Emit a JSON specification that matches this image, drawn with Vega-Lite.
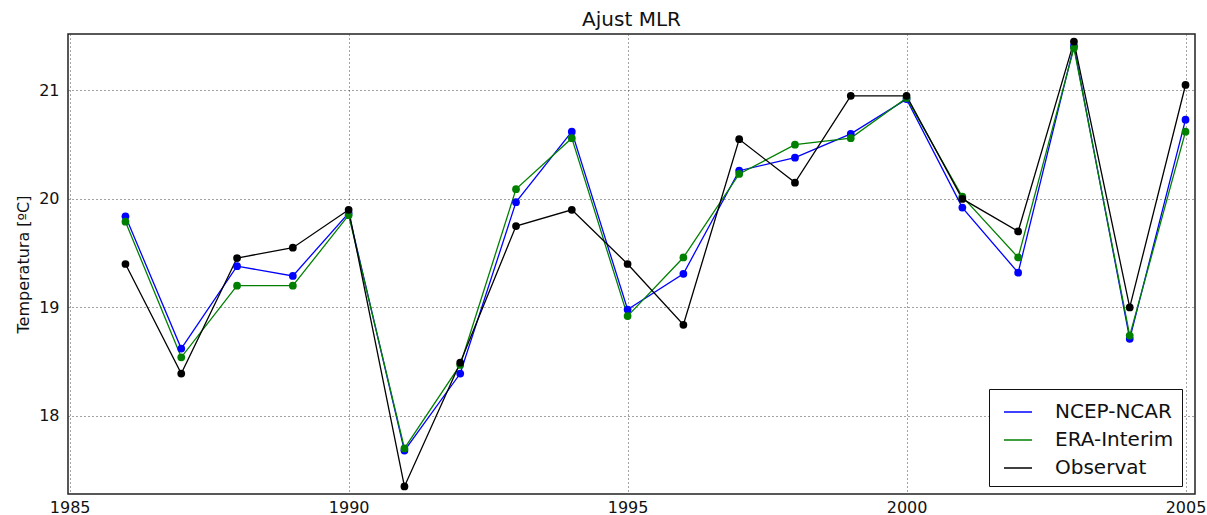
{
  "$schema": "https://vega.github.io/schema/vega-lite/v6.json",
  "autosize": {"type": "none"},
  "padding": {"left": 68, "top": 34, "right": 12, "bottom": 21},
  "width": 1127,
  "height": 460,
  "background": "white",
  "title": {"text": "Ajust MLR", "fontSize": 20, "font": "DejaVu Sans", "fontWeight": "normal", "color": "#111", "offset": 4, "anchor": "middle"},
  "config": {
    "view": {"stroke": "#222", "strokeWidth": 1.5},
    "font": "DejaVu Sans",
    "axis": {"labelFont": "DejaVu Sans", "titleFont": "DejaVu Sans", "labelColor": "#111", "titleColor": "#111", "domain": false, "ticks": false, "tickSize": 0, "gridColor": "#333", "gridDash": [1, 3], "gridWidth": 1, "gridOpacity": 0.9}
  },
  "data": {"values": [
    {"year": 1986, "series": "NCEP-NCAR", "temp": 19.84},
    {"year": 1987, "series": "NCEP-NCAR", "temp": 18.62},
    {"year": 1988, "series": "NCEP-NCAR", "temp": 19.38},
    {"year": 1989, "series": "NCEP-NCAR", "temp": 19.29},
    {"year": 1990, "series": "NCEP-NCAR", "temp": 19.87},
    {"year": 1991, "series": "NCEP-NCAR", "temp": 17.68},
    {"year": 1992, "series": "NCEP-NCAR", "temp": 18.39},
    {"year": 1993, "series": "NCEP-NCAR", "temp": 19.97},
    {"year": 1994, "series": "NCEP-NCAR", "temp": 20.62},
    {"year": 1995, "series": "NCEP-NCAR", "temp": 18.98},
    {"year": 1996, "series": "NCEP-NCAR", "temp": 19.31},
    {"year": 1997, "series": "NCEP-NCAR", "temp": 20.26},
    {"year": 1998, "series": "NCEP-NCAR", "temp": 20.38},
    {"year": 1999, "series": "NCEP-NCAR", "temp": 20.60},
    {"year": 2000, "series": "NCEP-NCAR", "temp": 20.92},
    {"year": 2001, "series": "NCEP-NCAR", "temp": 19.92},
    {"year": 2002, "series": "NCEP-NCAR", "temp": 19.32},
    {"year": 2003, "series": "NCEP-NCAR", "temp": 21.41},
    {"year": 2004, "series": "NCEP-NCAR", "temp": 18.71},
    {"year": 2005, "series": "NCEP-NCAR", "temp": 20.73},
    {"year": 1986, "series": "ERA-Interim", "temp": 19.79},
    {"year": 1987, "series": "ERA-Interim", "temp": 18.54},
    {"year": 1988, "series": "ERA-Interim", "temp": 19.20},
    {"year": 1989, "series": "ERA-Interim", "temp": 19.20},
    {"year": 1990, "series": "ERA-Interim", "temp": 19.85},
    {"year": 1991, "series": "ERA-Interim", "temp": 17.70},
    {"year": 1992, "series": "ERA-Interim", "temp": 18.47},
    {"year": 1993, "series": "ERA-Interim", "temp": 20.09},
    {"year": 1994, "series": "ERA-Interim", "temp": 20.56},
    {"year": 1995, "series": "ERA-Interim", "temp": 18.92},
    {"year": 1996, "series": "ERA-Interim", "temp": 19.46},
    {"year": 1997, "series": "ERA-Interim", "temp": 20.23},
    {"year": 1998, "series": "ERA-Interim", "temp": 20.50},
    {"year": 1999, "series": "ERA-Interim", "temp": 20.56},
    {"year": 2000, "series": "ERA-Interim", "temp": 20.93},
    {"year": 2001, "series": "ERA-Interim", "temp": 20.02},
    {"year": 2002, "series": "ERA-Interim", "temp": 19.46},
    {"year": 2003, "series": "ERA-Interim", "temp": 21.39},
    {"year": 2004, "series": "ERA-Interim", "temp": 18.74},
    {"year": 2005, "series": "ERA-Interim", "temp": 20.62},
    {"year": 1986, "series": "Observat", "temp": 19.40},
    {"year": 1987, "series": "Observat", "temp": 18.39},
    {"year": 1988, "series": "Observat", "temp": 19.455},
    {"year": 1989, "series": "Observat", "temp": 19.55},
    {"year": 1990, "series": "Observat", "temp": 19.90},
    {"year": 1991, "series": "Observat", "temp": 17.35},
    {"year": 1992, "series": "Observat", "temp": 18.49},
    {"year": 1993, "series": "Observat", "temp": 19.75},
    {"year": 1994, "series": "Observat", "temp": 19.90},
    {"year": 1995, "series": "Observat", "temp": 19.40},
    {"year": 1996, "series": "Observat", "temp": 18.84},
    {"year": 1997, "series": "Observat", "temp": 20.55},
    {"year": 1998, "series": "Observat", "temp": 20.15},
    {"year": 1999, "series": "Observat", "temp": 20.95},
    {"year": 2000, "series": "Observat", "temp": 20.95},
    {"year": 2001, "series": "Observat", "temp": 20.00},
    {"year": 2002, "series": "Observat", "temp": 19.70},
    {"year": 2003, "series": "Observat", "temp": 21.45},
    {"year": 2004, "series": "Observat", "temp": 19.00},
    {"year": 2005, "series": "Observat", "temp": 21.05}
  ]},
  "encoding": {
    "x": {"field": "year", "type": "quantitative",
      "scale": {"domain": [1984.97, 2005.17], "nice": false, "zero": false},
      "axis": {"values": [1985, 1990, 1995, 2000, 2005], "format": "d", "title": null, "labelFontSize": 16, "labelPadding": 5, "labelFlush": false}},
    "y": {"field": "temp", "type": "quantitative",
      "scale": {"domain": [17.28, 21.52], "nice": false, "zero": false},
      "axis": {"values": [18, 19, 20, 21], "format": "d", "title": "Temperatura [ºC]", "titleFontSize": 16, "titleFontWeight": "normal", "titlePadding": 7, "labelFontSize": 16, "labelPadding": 9}},
    "color": {"field": "series", "type": "nominal",
      "scale": {"domain": ["NCEP-NCAR", "ERA-Interim", "Observat"], "range": ["#0000ff", "#008000", "#000000"]}}
  },
  "layer": [
    {
      "mark": {"type": "line", "strokeWidth": 1.3},
      "encoding": {
        "color": {"field": "series", "type": "nominal",
          "scale": {"domain": ["NCEP-NCAR", "ERA-Interim", "Observat"], "range": ["#0000ff", "#008000", "#000000"]},
          "legend": {"title": null, "orient": "none", "legendX": 921, "legendY": 355, "strokeColor": "#111", "fillColor": "white", "padding": 8, "cornerRadius": 0, "symbolType": "stroke", "symbolSize": 784, "symbolStrokeWidth": 1.5, "symbolOffset": 6, "labelFontSize": 20, "labelFont": "DejaVu Sans", "labelColor": "#111", "labelOffset": 22, "rowPadding": 3, "labelExpr": "datum.label + '\u00a0\u00a0'"}}
      }
    },
    {
      "mark": {"type": "point", "filled": true, "opacity": 1, "size": 60},
      "encoding": {
        "color": {"field": "series", "type": "nominal",
          "scale": {"domain": ["NCEP-NCAR", "ERA-Interim", "Observat"], "range": ["#0000ff", "#008000", "#000000"]},
          "legend": null}
      }
    }
  ]
}
